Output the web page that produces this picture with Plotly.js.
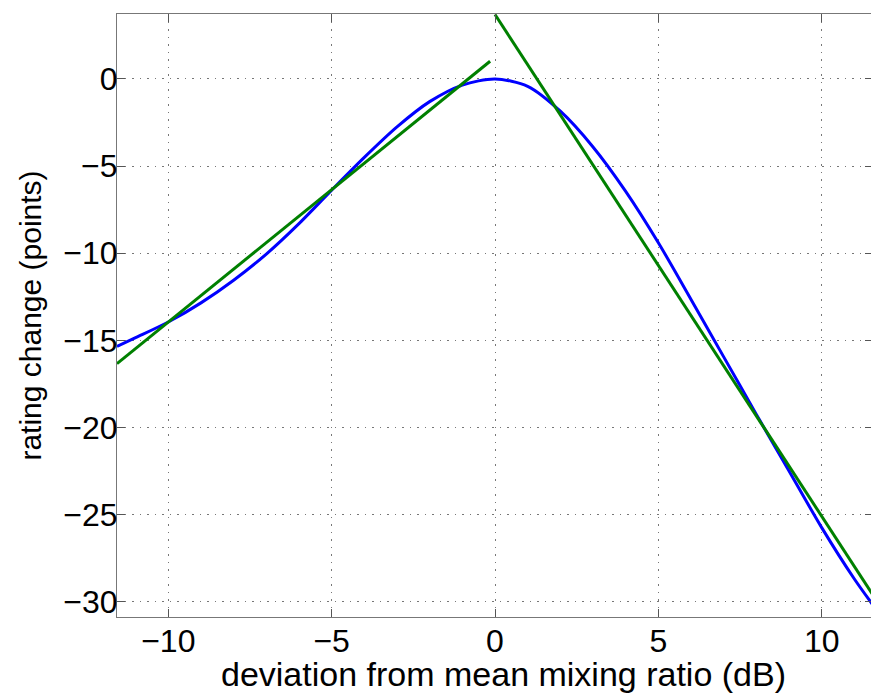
<!DOCTYPE html>
<html>
<head>
<meta charset="utf-8">
<script src="https://cdn.plot.ly/plotly-3.0.1.min.js"></script>
<style>
  html, body { margin: 0; padding: 0; background: #fff; overflow: hidden; }
  #chart { width: 873px; height: 694px; }
</style>
</head>
<body>
<div id="chart"></div>
<script>
// Measured rating change vs. deviation from the mean mixing ratio
const devDb = [-11.57, -11, -10, -9, -8, -7, -6, -5, -4, -3, -2, -1, 0,
               1, 2, 3, 4, 5, 6, 7, 8, 9, 10, 11, 11.57];
const ratingChange = [-15.35, -14.85, -13.95, -12.85, -11.55, -10.05, -8.3, -6.38, -4.5, -2.75, -1.3, -0.35, 0,
                      -0.42, -1.85, -3.9, -6.45, -9.4, -12.65, -15.95, -19.25, -22.5, -25.75, -28.7, -30.2];

// Piecewise linear fit: one segment below 0 dB, one above
const fitLowX = [-11.57, -0.15];
const fitLowY = [-16.34, 1.02];
const fitHighX = [0, 11.57];
const fitHighY = [3.7, -29.62];

const xTicks = [-10, -5, 0, 5, 10];
const yTicks = [0, -5, -10, -15, -20, -25, -30];

const xTitle = 'deviation from mean mixing ratio (dB)';
const yTitle = 'rating change (points)';

const font = { family: '"Liberation Sans", Arial, Helvetica, sans-serif', color: '#000' };

const traces = [
  { x: devDb, y: ratingChange, mode: 'lines', line: { color: '#0000ff', width: 3, shape: 'spline', smoothing: 0.8 }, hoverinfo: 'skip' },
  { x: fitLowX, y: fitLowY, mode: 'lines', line: { color: '#008000', width: 3 }, hoverinfo: 'skip' },
  { x: fitHighX, y: fitHighY, mode: 'lines', line: { color: '#008000', width: 3 }, hoverinfo: 'skip' }
];

const axisCommon = {
  showline: true, linecolor: '#777', linewidth: 1, mirror: 'ticks',
  ticks: 'inside', ticklen: 8, tickcolor: '#555', tickwidth: 1,
  showgrid: true, gridcolor: '#777', gridwidth: 1, griddash: '1.5px,6px',
  zeroline: false, automargin: false,
  tickfont: Object.assign({ size: 32 }, font)
};

const layout = {
  width: 873, height: 694,
  margin: { l: 117, r: 0, t: 14, b: 77 },
  paper_bgcolor: '#fff', plot_bgcolor: '#fff',
  showlegend: false,
  font: font,
  xaxis: Object.assign({}, axisCommon, {
    range: [-11.57, 11.57],
    tickmode: 'array', tickvals: xTicks,
    ticklabelstandoff: -4
  }),
  yaxis: Object.assign({}, axisCommon, {
    range: [-30.88, 3.73],
    tickmode: 'array', tickvals: yTicks,
    ticklabelstandoff: -8,
    title: { text: yTitle, font: Object.assign({ size: 30 }, font), standoff: 12 }
  }),
  // x-axis title placed as a paper-anchored label just under the tick labels
  annotations: [{
    text: xTitle, showarrow: false,
    xref: 'paper', yref: 'paper',
    x: 0.511, y: -0.13, xanchor: 'center', yanchor: 'bottom',
    font: Object.assign({ size: 34 }, font)
  }]
};

Plotly.newPlot('chart', traces, layout, { displayModeBar: false, staticPlot: true });
</script>
</body>
</html>
